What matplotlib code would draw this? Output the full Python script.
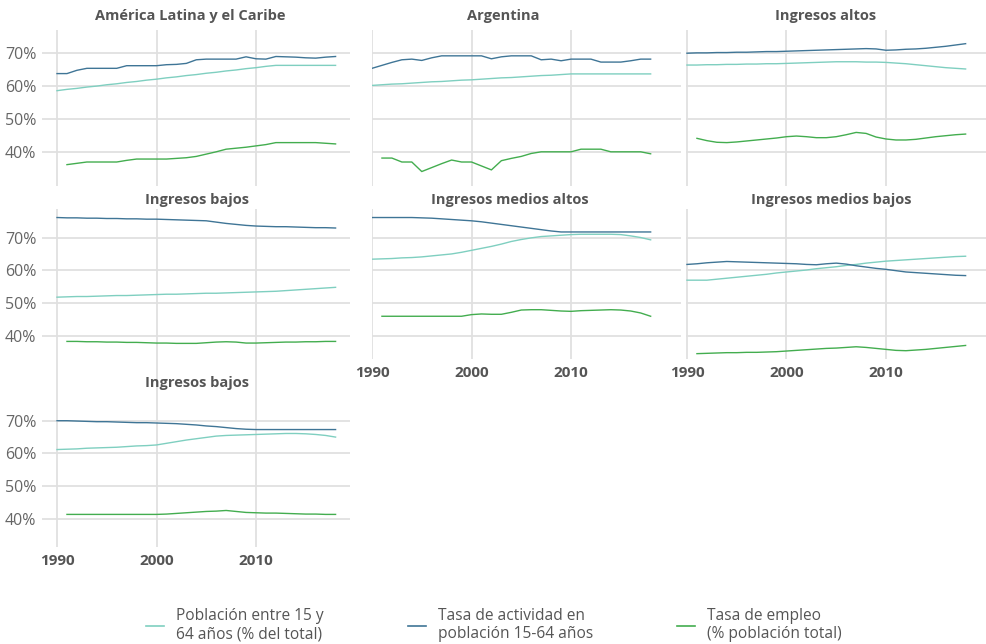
import matplotlib
matplotlib.use("Agg")
import matplotlib.pyplot as plt
from matplotlib.lines import Line2D

plt.rcParams['font.family'] = ['Open Sans', 'DejaVu Sans']

years = list(range(1990, 2019))
years_emp = list(range(1991, 2019))

panel_titles = ["América Latina y el Caribe", "Argentina", "Ingresos altos",
                "Ingresos bajos", "Ingresos medios altos", "Ingresos medios bajos",
                "Ingresos bajos"]

series_labels = ["Población entre 15 y\n64 años (% del total)",
                 "Tasa de actividad en\npoblación 15-64 años",
                 "Tasa de empleo\n(% población total)"]

x_ticks = [1990, 2000, 2010]
y_ticks = [40, 50, 60, 70]
y_tick_labels = ["40%", "50%", "60%", "70%"]

# Población entre 15 y 64 años (% del total)
pob_alc = [58.6, 59.0, 59.3, 59.7, 60.0, 60.4, 60.7, 61.1, 61.4, 61.8, 62.1, 62.5, 62.8, 63.2,
           63.5, 63.9, 64.2, 64.6, 64.9, 65.3, 65.6, 66.0, 66.3, 66.3, 66.3, 66.3, 66.3, 66.3, 66.3]
pob_arg = [60.2, 60.4, 60.6, 60.7, 60.9, 61.1, 61.3, 61.4, 61.6, 61.8, 61.9, 62.1, 62.3, 62.5,
           62.6, 62.8, 63.0, 63.2, 63.3, 63.5, 63.7, 63.7, 63.7, 63.7, 63.7, 63.7, 63.7, 63.7, 63.7]
pob_alt = [66.4, 66.4, 66.5, 66.5, 66.6, 66.6, 66.7, 66.7, 66.8, 66.8, 66.9, 67.0, 67.1, 67.2,
           67.3, 67.4, 67.4, 67.4, 67.3, 67.3, 67.2, 67.0, 66.8, 66.5, 66.2, 65.9, 65.6, 65.4, 65.2]
pob_baj = [51.8, 51.9, 52.0, 52.0, 52.1, 52.2, 52.3, 52.3, 52.4, 52.5, 52.6, 52.7, 52.7, 52.8,
           52.9, 53.0, 53.0, 53.1, 53.2, 53.3, 53.4, 53.5, 53.6, 53.8, 54.0, 54.2, 54.4, 54.6, 54.8]
pob_mal = [63.4, 63.5, 63.6, 63.8, 63.9, 64.1, 64.4, 64.7, 65.0, 65.5, 66.1, 66.7, 67.3, 68.0,
           68.8, 69.4, 69.9, 70.3, 70.5, 70.7, 70.9, 71.0, 71.0, 71.0, 71.0, 70.9, 70.5, 70.0, 69.3]
pob_mba = [57.0, 57.0, 57.0, 57.3, 57.6, 57.9, 58.2, 58.5, 58.8, 59.2, 59.5, 59.8, 60.1, 60.5,
           60.8, 61.1, 61.5, 61.8, 62.2, 62.5, 62.8, 63.0, 63.2, 63.4, 63.6, 63.8, 64.0, 64.2, 64.3]
pob_baj2 = [61.2, 61.3, 61.4, 61.6, 61.7, 61.8, 61.9, 62.1, 62.3, 62.4, 62.6, 63.1, 63.6, 64.1,
            64.5, 64.9, 65.3, 65.5, 65.6, 65.7, 65.8, 65.9, 66.0, 66.1, 66.1, 66.0, 65.8, 65.5, 65.0]

# Tasa de actividad en población 15-64 años
act_alc = [63.8, 63.8, 64.8, 65.4, 65.4, 65.4, 65.4, 66.2, 66.2, 66.2, 66.2, 66.5, 66.6, 66.9,
           68.0, 68.2, 68.2, 68.2, 68.2, 68.9, 68.3, 68.2, 69.0, 68.9, 68.8, 68.6, 68.5, 68.8, 69.0]
act_arg = [65.4, 66.3, 67.2, 68.0, 68.2, 67.8, 68.6, 69.2, 69.2, 69.2, 69.2, 69.2, 68.3, 68.9,
           69.2, 69.2, 69.2, 68.0, 68.2, 67.7, 68.2, 68.2, 68.2, 67.3, 67.3, 67.3, 67.7, 68.2, 68.2]
act_alt = [70.0, 70.1, 70.1, 70.2, 70.2, 70.3, 70.3, 70.4, 70.5, 70.5, 70.6, 70.7, 70.8, 70.9,
           71.0, 71.1, 71.2, 71.3, 71.4, 71.3, 70.9, 71.0, 71.2, 71.3, 71.5, 71.8, 72.1, 72.5, 72.9]
act_baj = [76.1, 76.0, 76.0, 75.9, 75.9, 75.8, 75.8, 75.7, 75.7, 75.6, 75.6, 75.5, 75.4, 75.3,
           75.2, 75.1, 74.7, 74.3, 74.0, 73.7, 73.5, 73.4, 73.3, 73.3, 73.2, 73.1, 73.0, 73.0, 72.9]
act_mal = [76.1, 76.1, 76.1, 76.1, 76.1, 76.0, 75.9, 75.7, 75.5, 75.3, 75.1, 74.8, 74.4, 74.0,
           73.6, 73.2, 72.8, 72.4, 72.0, 71.7, 71.7, 71.7, 71.7, 71.7, 71.7, 71.7, 71.7, 71.7, 71.7]
act_mba = [61.8, 62.0, 62.3, 62.5, 62.7, 62.6, 62.5, 62.4, 62.3, 62.2, 62.1, 62.0, 61.8, 61.7,
           62.0, 62.2, 61.9, 61.4, 61.0, 60.6, 60.3, 59.9, 59.5, 59.3, 59.1, 58.9, 58.7, 58.5, 58.4]
act_baj2 = [70.0, 70.0, 69.9, 69.8, 69.7, 69.7, 69.6, 69.5, 69.4, 69.4, 69.3, 69.2, 69.1, 68.9,
            68.7, 68.4, 68.2, 67.9, 67.6, 67.4, 67.3, 67.3, 67.3, 67.3, 67.3, 67.3, 67.3, 67.3, 67.3]

# Tasa de empleo (% población total), desde 1991
emp_alc = [36.1, 36.5, 36.9, 36.9, 36.9, 36.9, 37.4, 37.8, 37.8, 37.8, 37.8, 38.0, 38.2, 38.6,
           39.3, 40.0, 40.8, 41.1, 41.4, 41.8, 42.2, 42.8, 42.8, 42.8, 42.8, 42.8, 42.6, 42.4]
emp_arg = [38.1, 38.1, 36.9, 36.9, 34.0, 35.2, 36.4, 37.5, 36.9, 36.9, 35.7, 34.5, 37.3, 38.0,
           38.6, 39.5, 40.0, 40.0, 40.0, 40.0, 40.8, 40.8, 40.8, 40.0, 40.0, 40.0, 40.0, 39.4]
emp_alt = [44.1, 43.4, 42.9, 42.8, 43.0, 43.3, 43.6, 43.9, 44.2, 44.6, 44.8, 44.6, 44.3, 44.3,
           44.6, 45.2, 45.9, 45.6, 44.5, 43.9, 43.6, 43.6, 43.8, 44.2, 44.6, 44.9, 45.2, 45.4]
emp_baj = [38.3, 38.3, 38.2, 38.2, 38.1, 38.1, 38.0, 38.0, 37.9, 37.8, 37.8, 37.7, 37.7, 37.7,
           37.9, 38.1, 38.2, 38.1, 37.8, 37.8, 37.9, 38.0, 38.1, 38.1, 38.2, 38.2, 38.3, 38.3]
emp_mal = [46.0, 46.0, 46.0, 46.0, 46.0, 46.0, 46.0, 46.0, 46.0, 46.5, 46.7, 46.6, 46.6, 47.2,
           47.9, 48.0, 48.0, 47.8, 47.6, 47.5, 47.7, 47.8, 47.9, 48.0, 47.9, 47.6, 47.0, 46.0]
emp_mba = [34.6, 34.7, 34.8, 34.9, 34.9, 35.0, 35.0, 35.1, 35.2, 35.4, 35.6, 35.8, 36.0, 36.2,
           36.3, 36.5, 36.7, 36.5, 36.2, 35.9, 35.6, 35.5, 35.7, 35.9, 36.2, 36.5, 36.8, 37.1]
emp_baj2 = [41.4, 41.4, 41.4, 41.4, 41.4, 41.4, 41.4, 41.4, 41.4, 41.4, 41.5, 41.7, 41.9, 42.1,
            42.3, 42.4, 42.6, 42.3, 42.0, 41.9, 41.8, 41.8, 41.7, 41.6, 41.5, 41.5, 41.4, 41.4]

pob_all = [pob_alc, pob_arg, pob_alt, pob_baj, pob_mal, pob_mba, pob_baj2]
act_all = [act_alc, act_arg, act_alt, act_baj, act_mal, act_mba, act_baj2]
emp_all = [emp_alc, emp_arg, emp_alt, emp_baj, emp_mal, emp_mba, emp_baj2]

C_POB = "#7fcfc0"
C_ACT = "#3f7596"
C_EMP = "#43ad4f"
GRID = "#e0e0e0"
TXT = "#555555"

W, H = 987, 644
fig = plt.figure(figsize=(W / 100, H / 100), dpi=100)

# layout in pixels: (left, top, right, bottom, xlim, ylim, show_y, show_x, title_x, title_y)
layout = [
    (42, 30, 350, 186, (1988.49, 2019.45), (29.6, 77.06), True, False, 190, 16),
    (372, 30, 681, 186, (1990.0, 2021.05), (29.6, 77.06), False, False, 503, 16),
    (686, 30, 987, 186, (1989.9, 2020.15), (29.6, 77.06), False, False, 826, 16),
    (42, 209, 350, 366, (1988.49, 2019.45), (30.8, 78.7), True, False, 197, 200),
    (372, 209, 681, 359, (1990.0, 2021.05), (32.97, 78.7), False, True, 510, 200),
    (686, 209, 987, 359, (1989.9, 2020.15), (32.97, 78.7), False, True, 831, 200),
    (42, 366, 350, 547, (1988.49, 2019.45), (31.45, 86.7), True, True, 197, 383),
]

for i, (l, t, r, b, xl, yl, showy, showx, tx, ty) in enumerate(layout):
    ax = fig.add_axes([l / W, 1 - b / H, (r - l) / W, (b - t) / H])
    ax.set_xlim(*xl)
    ax.set_ylim(*yl)
    for s in ax.spines.values():
        s.set_visible(False)
    ax.set_xticks(x_ticks)
    ax.set_yticks(y_ticks)
    ax.grid(True, color=GRID, linewidth=1.3)
    ax.set_axisbelow(True)
    ax.tick_params(length=0, colors=TXT)
    if showy:
        ax.set_yticklabels(y_tick_labels, fontsize=11.5, color="#666666")
        ax.tick_params(axis='y', pad=4)
    else:
        ax.set_yticklabels([])
    if showx:
        ax.set_xticklabels([str(v) for v in x_ticks], fontsize=11, fontweight='bold', color=TXT)
        ax.tick_params(axis='x', pad=5)
    else:
        ax.set_xticklabels([])
    ax.plot(years, pob_all[i], color=C_POB, lw=1.0)
    ax.plot(years, act_all[i], color=C_ACT, lw=1.0)
    ax.plot(years_emp, emp_all[i], color=C_EMP, lw=1.0)
    fig.text(tx / W, 1 - ty / H, panel_titles[i], ha='center', va='center',
             fontsize=10.5, fontweight='bold', color=TXT)

handles = [Line2D([], [], color=C_POB, lw=1.2),
           Line2D([], [], color=C_ACT, lw=1.2),
           Line2D([], [], color=C_EMP, lw=1.2)]
fig.legend(handles, series_labels, loc='center', bbox_to_anchor=(494 / W, 1 - 625 / H),
           ncol=3, frameon=False, fontsize=11.2, labelcolor=TXT, handlelength=1.15,
           handletextpad=0.77, columnspacing=5.4)

fig.savefig("out.png", dpi=100)
